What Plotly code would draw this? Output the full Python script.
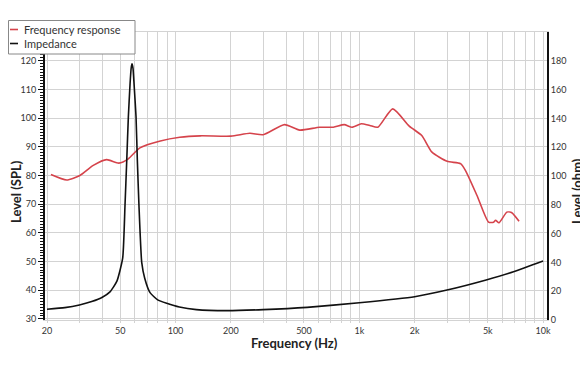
import plotly.graph_objects as go
import math

# Frequency response (SPL)
fr_freq = [21, 25.6, 30.2, 35.7, 42.2, 49.2, 55.4, 64, 82.7, 105.5, 136.6, 200, 254, 300,
           392, 474, 608, 722, 828, 913, 1026, 1141, 1261, 1520, 1869, 2187, 2485, 3008,
           3554, 3783, 4368, 5050, 5378, 5515, 5752, 6347, 6758, 7398]
fr_spl = [80.3, 78.4, 80.0, 83.5, 85.5, 84.3, 85.8, 89.6, 92.0, 93.3, 93.8, 93.7, 94.7, 94.2,
          97.7, 95.8, 96.8, 96.8, 97.7, 96.8, 98.0, 97.4, 96.8, 103.2, 97.2, 93.9, 88.1, 84.9,
          84.1, 81.7, 73.0, 63.7, 63.7, 64.4, 63.5, 67.2, 67.0, 64.0]

# Impedance (ohm)
imp_freq = [20, 25, 30, 35, 40, 44, 48, 51.6, 53.1, 54.3, 55.4, 56.6, 57.4, 58.0, 58.7, 59.5,
            61.0, 62.0, 63.3, 65.5, 68, 72.7, 80, 89.6, 105, 130, 190, 300, 520, 1000, 2000,
            3000, 4900, 6900, 10000]
imp_ohm = [7.5, 8.6, 10.4, 12.8, 15.8, 19.5, 27, 43, 79, 111, 141, 164, 175, 178, 175, 164,
           141, 111, 79, 40, 29, 19, 14, 11.6, 9, 7.2, 6.5, 7.2, 8.8, 12, 16.2, 20.8, 27.8,
           33.5, 41]

series_names = ["Frequency response", "Impedance"]

# Axis ticks
x_tickvals = [20, 30, 40, 50, 60, 70, 80, 90, 100, 200, 300, 400, 500, 600, 700, 800, 900,
              1000, 2000, 3000, 4000, 5000, 6000, 7000, 8000, 9000, 10000]
x_ticktext = ["20", "", "", "50", "", "", "", "", "100", "200", "", "", "500", "", "", "", "",
              "1k", "2k", "", "", "5k", "", "", "", "", "10k"]
y_tickvals = [30, 40, 50, 60, 70, 80, 90, 100, 110, 120]
y2_tickvals = [0, 20, 40, 60, 80, 100, 120, 140, 160, 180]

FONT = "Lato"
RED = "#d5434b"
BLACK = "#111111"
GRID = "#d3d3d3"
W, H = 580, 364  # the page body adds an 8px offset
ML, MR, MT, MB = 37, 41, 24, 52
PW, PH = W - ML - MR, H - MT - MB


def px(sx):  # screen x -> paper x
    return (sx - 8 - ML) / PW


def py(sy):  # screen y -> paper y
    return 1 - (sy - 8 - MT) / PH


fig = go.Figure()
fig.add_trace(go.Scatter(x=fr_freq, y=fr_spl, name=series_names[0], mode="lines",
                         showlegend=False,
                         line=dict(color=RED, width=1.6, shape="spline", smoothing=0.6)))
fig.add_trace(go.Scatter(x=imp_freq, y=imp_ohm, name=series_names[1], mode="lines",
                         yaxis="y2", showlegend=False,
                         line=dict(color=BLACK, width=1.6, shape="spline", smoothing=0.5)))

title_font = dict(family=FONT, size=13, color="#222222")

# legend (drawn box with swatches and labels)
shapes = [
    dict(type="rect", xref="paper", yref="paper", x0=px(8.5), x1=px(135), y0=py(54), y1=py(20.5),
         line=dict(color="#888888", width=1), fillcolor="white", layer="above"),
    dict(type="line", xref="paper", yref="paper", x0=px(10), x1=px(18), y0=py(29.5), y1=py(29.5),
         line=dict(color=RED, width=1.6), layer="above"),
    dict(type="line", xref="paper", yref="paper", x0=px(10), x1=px(18), y0=py(43.5), y1=py(43.5),
         line=dict(color=BLACK, width=1.6), layer="above"),
]
annotations = [
    dict(text=series_names[0], xref="paper", yref="paper", x=px(22), y=py(29.5),
         xanchor="left", yanchor="middle", showarrow=False,
         font=dict(family=FONT, size=11, color="#333333")),
    dict(text=series_names[1], xref="paper", yref="paper", x=px(22), y=py(43.5),
         xanchor="left", yanchor="middle", showarrow=False,
         font=dict(family=FONT, size=11, color="#333333")),
    dict(text="<b>Frequency (Hz)</b>", xref="paper", yref="paper", x=px(294), y=py(343),
         xanchor="center", yanchor="middle", showarrow=False, font=title_font),
    dict(text="<b>Level (SPL)</b>", xref="paper", yref="paper", x=px(16), y=py(192),
         xanchor="center", yanchor="middle", showarrow=False, textangle=-90, font=title_font),
    dict(text="<b>Level (ohm)</b>", xref="paper", yref="paper", x=px(577), y=py(191),
         xanchor="center", yanchor="middle", showarrow=False, textangle=-90, font=title_font),
]

fig.update_layout(
    width=W, height=H,
    margin=dict(l=ML, r=MR, t=MT, b=MB, autoexpand=False),
    paper_bgcolor="white", plot_bgcolor="white",
    font=dict(family=FONT, size=10, color="#333333"),
    showlegend=False,
    xaxis=dict(type="log", range=[math.log10(19.5), math.log10(10500)],
               tickvals=x_tickvals, ticktext=x_ticktext, showgrid=True, gridcolor=GRID,
               gridwidth=1, showline=True, linecolor=GRID, linewidth=1, mirror=True,
               ticks="outside", ticklen=2, tickcolor=GRID, zeroline=False,
               tickfont=dict(size=9, color="#333333")),
    yaxis=dict(range=[29.6, 130], tickvals=y_tickvals, showgrid=True, gridcolor=GRID,
               gridwidth=1, showline=True, linecolor=BLACK, linewidth=2, zeroline=False,
               ticks="outside", ticklen=5, tickcolor=BLACK,
               minor=dict(dtick=1, ticks="outside", ticklen=3, tickcolor=BLACK,
                          showgrid=False),
               tickfont=dict(size=9, color="#333333")),
    yaxis2=dict(range=[0, 200], tickvals=y2_tickvals, overlaying="y", side="right",
                showgrid=False, showline=True, linecolor=BLACK, linewidth=2,
                zeroline=False, ticks="", tickfont=dict(size=9, color="#333333")),
    shapes=shapes,
    annotations=annotations,
)

fig.write_html("out.html")
